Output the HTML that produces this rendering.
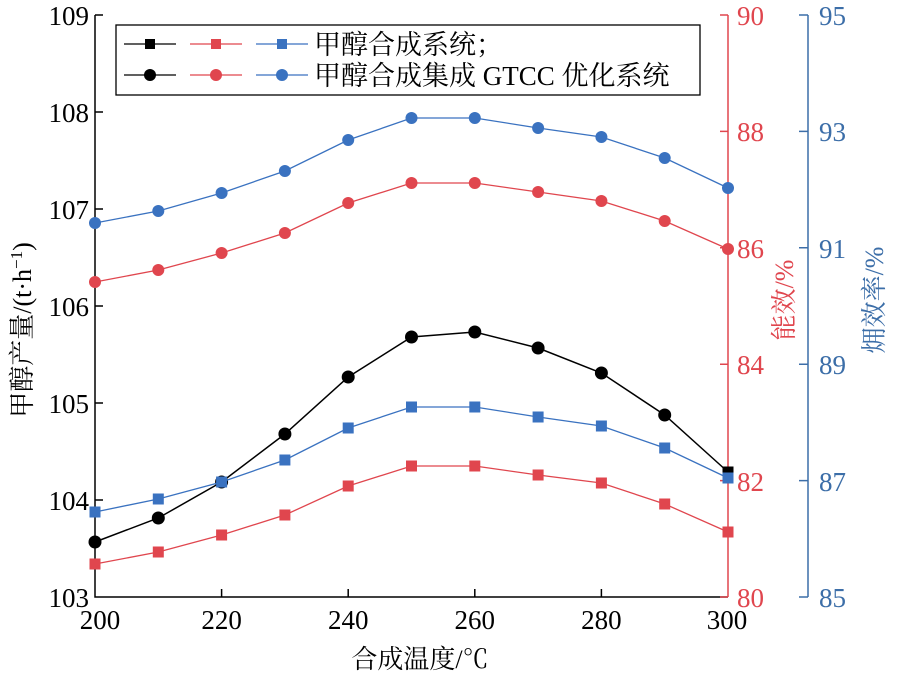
<!DOCTYPE html>
<html><head><meta charset="utf-8"><style>
html,body{margin:0;padding:0;background:#fff;}
svg{display:block;font-family:"Liberation Serif","Noto Serif CJK SC",serif;}
</style></head><body>
<svg width="912" height="700" viewBox="0 0 912 700" xmlns="http://www.w3.org/2000/svg">
<g stroke="#000" stroke-width="1.5" fill="none">
<path d="M95,15 V597 H728"/>
<path d="M95,15h8M95,112h8M95,209h8M95,306h8M95,403h8M95,500h8"/>
<path d="M221.6,597v-8M348.2,597v-8M474.8,597v-8M601.4,597v-8"/>
</g>
<g font-size="27" text-anchor="end" fill="#000">
<text x="89" y="25">109</text><text x="89" y="122">108</text><text x="89" y="219">107</text>
<text x="89" y="316">106</text><text x="89" y="413">105</text><text x="89" y="510">104</text><text x="89" y="607">103</text>
</g>
<g font-size="27" text-anchor="middle" fill="#000">
<text x="100" y="629">200</text><text x="221.6" y="629">220</text><text x="348.2" y="629">240</text>
<text x="474.8" y="629">260</text><text x="601.4" y="629">280</text><text x="727" y="629">300</text>
</g>
<g stroke="#e0464e" stroke-width="1.5" fill="none">
<path d="M728,15V597"/>
<path d="M728,15h-8M728,131.4h-8M728,247.8h-8M728,364.2h-8M728,480.6h-8M728,597h-8"/>
</g>
<g font-size="27" fill="#e0464e">
<text x="737" y="25">90</text><text x="737" y="141">88</text><text x="737" y="258">86</text>
<text x="737" y="374">84</text><text x="737" y="491">82</text><text x="737" y="607">80</text>
</g>
<g stroke="#3c6ea8" stroke-width="1.5" fill="none">
<path d="M808,15V597"/>
<path d="M808,15h-9M808,131.4h-9M808,247.8h-9M808,364.2h-9M808,480.6h-9M808,597h-9"/>
</g>
<g font-size="27" fill="#3c6ea8">
<text x="819" y="25">95</text><text x="819" y="141">93</text><text x="819" y="258">91</text>
<text x="819" y="374">89</text><text x="819" y="491">87</text><text x="819" y="607">85</text>
</g>
<polyline fill="none" stroke="#3a72c0" stroke-width="1.3" points="95,223 158.3,211 221.6,193 284.9,171 348.2,140 411.5,118 474.8,118 538.1,128 601.4,137 664.7,158 728,188"/>
<g fill="#3a72c0"><circle cx="95" cy="223" r="6"/><circle cx="158.3" cy="211" r="6"/><circle cx="221.6" cy="193" r="6"/><circle cx="284.9" cy="171" r="6"/><circle cx="348.2" cy="140" r="6"/><circle cx="411.5" cy="118" r="6"/><circle cx="474.8" cy="118" r="6"/><circle cx="538.1" cy="128" r="6"/><circle cx="601.4" cy="137" r="6"/><circle cx="664.7" cy="158" r="6"/><circle cx="728" cy="188" r="6"/></g>
<polyline fill="none" stroke="#e0464e" stroke-width="1.3" points="95,282 158.3,270 221.6,253 284.9,233 348.2,203 411.5,183 474.8,183 538.1,192 601.4,201 664.7,221 728,249"/>
<g fill="#e0464e"><circle cx="95" cy="282" r="6"/><circle cx="158.3" cy="270" r="6"/><circle cx="221.6" cy="253" r="6"/><circle cx="284.9" cy="233" r="6"/><circle cx="348.2" cy="203" r="6"/><circle cx="411.5" cy="183" r="6"/><circle cx="474.8" cy="183" r="6"/><circle cx="538.1" cy="192" r="6"/><circle cx="601.4" cy="201" r="6"/><circle cx="664.7" cy="221" r="6"/><circle cx="728" cy="249" r="6"/></g>
<polyline fill="none" stroke="#e0464e" stroke-width="1.3" points="95,564 158.3,552 221.6,535 284.9,515 348.2,486 411.5,466 474.8,466 538.1,475 601.4,483 664.7,504 728,532"/>
<g fill="#e0464e"><rect x="89.5" y="558.5" width="11" height="11"/><rect x="152.8" y="546.5" width="11" height="11"/><rect x="216.1" y="529.5" width="11" height="11"/><rect x="279.4" y="509.5" width="11" height="11"/><rect x="342.7" y="480.5" width="11" height="11"/><rect x="406" y="460.5" width="11" height="11"/><rect x="469.3" y="460.5" width="11" height="11"/><rect x="532.6" y="469.5" width="11" height="11"/><rect x="595.9" y="477.5" width="11" height="11"/><rect x="659.2" y="498.5" width="11" height="11"/><rect x="722.5" y="526.5" width="11" height="11"/></g>
<polyline fill="none" stroke="#000" stroke-width="1.5" points="95,542 158.3,518 221.6,482 284.9,434 348.2,377 411.5,337 474.8,332 538.1,348 601.4,373 664.7,415 728,472"/>
<g fill="#000"><circle cx="95" cy="542" r="6.5"/><circle cx="158.3" cy="518" r="6.5"/><circle cx="221.6" cy="482" r="6.5"/><circle cx="284.9" cy="434" r="6.5"/><circle cx="348.2" cy="377" r="6.5"/><circle cx="411.5" cy="337" r="6.5"/><circle cx="474.8" cy="332" r="6.5"/><circle cx="538.1" cy="348" r="6.5"/><circle cx="601.4" cy="373" r="6.5"/><circle cx="664.7" cy="415" r="6.5"/><rect x="722.5" y="466.5" width="11" height="11"/></g>
<polyline fill="none" stroke="#3a72c0" stroke-width="1.3" points="95,512 158.3,499 221.6,482 284.9,460 348.2,428 411.5,407 474.8,407 538.1,417 601.4,426 664.7,448 728,478"/>
<g fill="#3a72c0"><rect x="89.5" y="506.5" width="11" height="11"/><rect x="152.8" y="493.5" width="11" height="11"/><rect x="216.1" y="476.5" width="11" height="11"/><rect x="279.4" y="454.5" width="11" height="11"/><rect x="342.7" y="422.5" width="11" height="11"/><rect x="406" y="401.5" width="11" height="11"/><rect x="469.3" y="401.5" width="11" height="11"/><rect x="532.6" y="411.5" width="11" height="11"/><rect x="595.9" y="420.5" width="11" height="11"/><rect x="659.2" y="442.5" width="11" height="11"/><rect x="722.5" y="472.5" width="11" height="11"/></g>
<rect x="116" y="25" width="584" height="70" fill="#fff" stroke="#000" stroke-width="1.3"/>
<g stroke-width="1.3">
<path d="M124,44h52" stroke="#000"/><path d="M190,44h52" stroke="#e0464e"/><path d="M256,44h52" stroke="#3a72c0"/>
<path d="M124,75h52" stroke="#000"/><path d="M190,75h52" stroke="#e0464e"/><path d="M256,75h52" stroke="#3a72c0"/>
</g>
<rect x="145" y="39" width="10" height="10" fill="#000"/><rect x="211" y="39" width="10" height="10" fill="#e0464e"/><rect x="277" y="39" width="10" height="10" fill="#3a72c0"/>
<circle cx="150" cy="75" r="6" fill="#000"/><circle cx="216" cy="75" r="6" fill="#e0464e"/><circle cx="282" cy="75" r="6" fill="#3a72c0"/>
<g font-size="27" fill="#000">
<text x="314" y="54">甲醇合成系统；</text>
<text x="314" y="85">甲醇合成集成 GTCC 优化系统</text>
</g>
<text x="420" y="668" font-size="26" text-anchor="middle">合成温度/℃</text>
<text transform="translate(31,330) rotate(-90)" font-size="26" text-anchor="middle">甲醇产量/(t·h<tspan font-size="17" dy="-9">−1</tspan><tspan dy="9">)</tspan></text>
<text transform="translate(793,300) rotate(-90)" font-size="26" text-anchor="middle" fill="#e0464e">能效/%</text>
<text transform="translate(883,300) rotate(-90)" font-size="26" text-anchor="middle" fill="#3c6ea8">㶲效率/%</text>
</svg>
</body></html>
